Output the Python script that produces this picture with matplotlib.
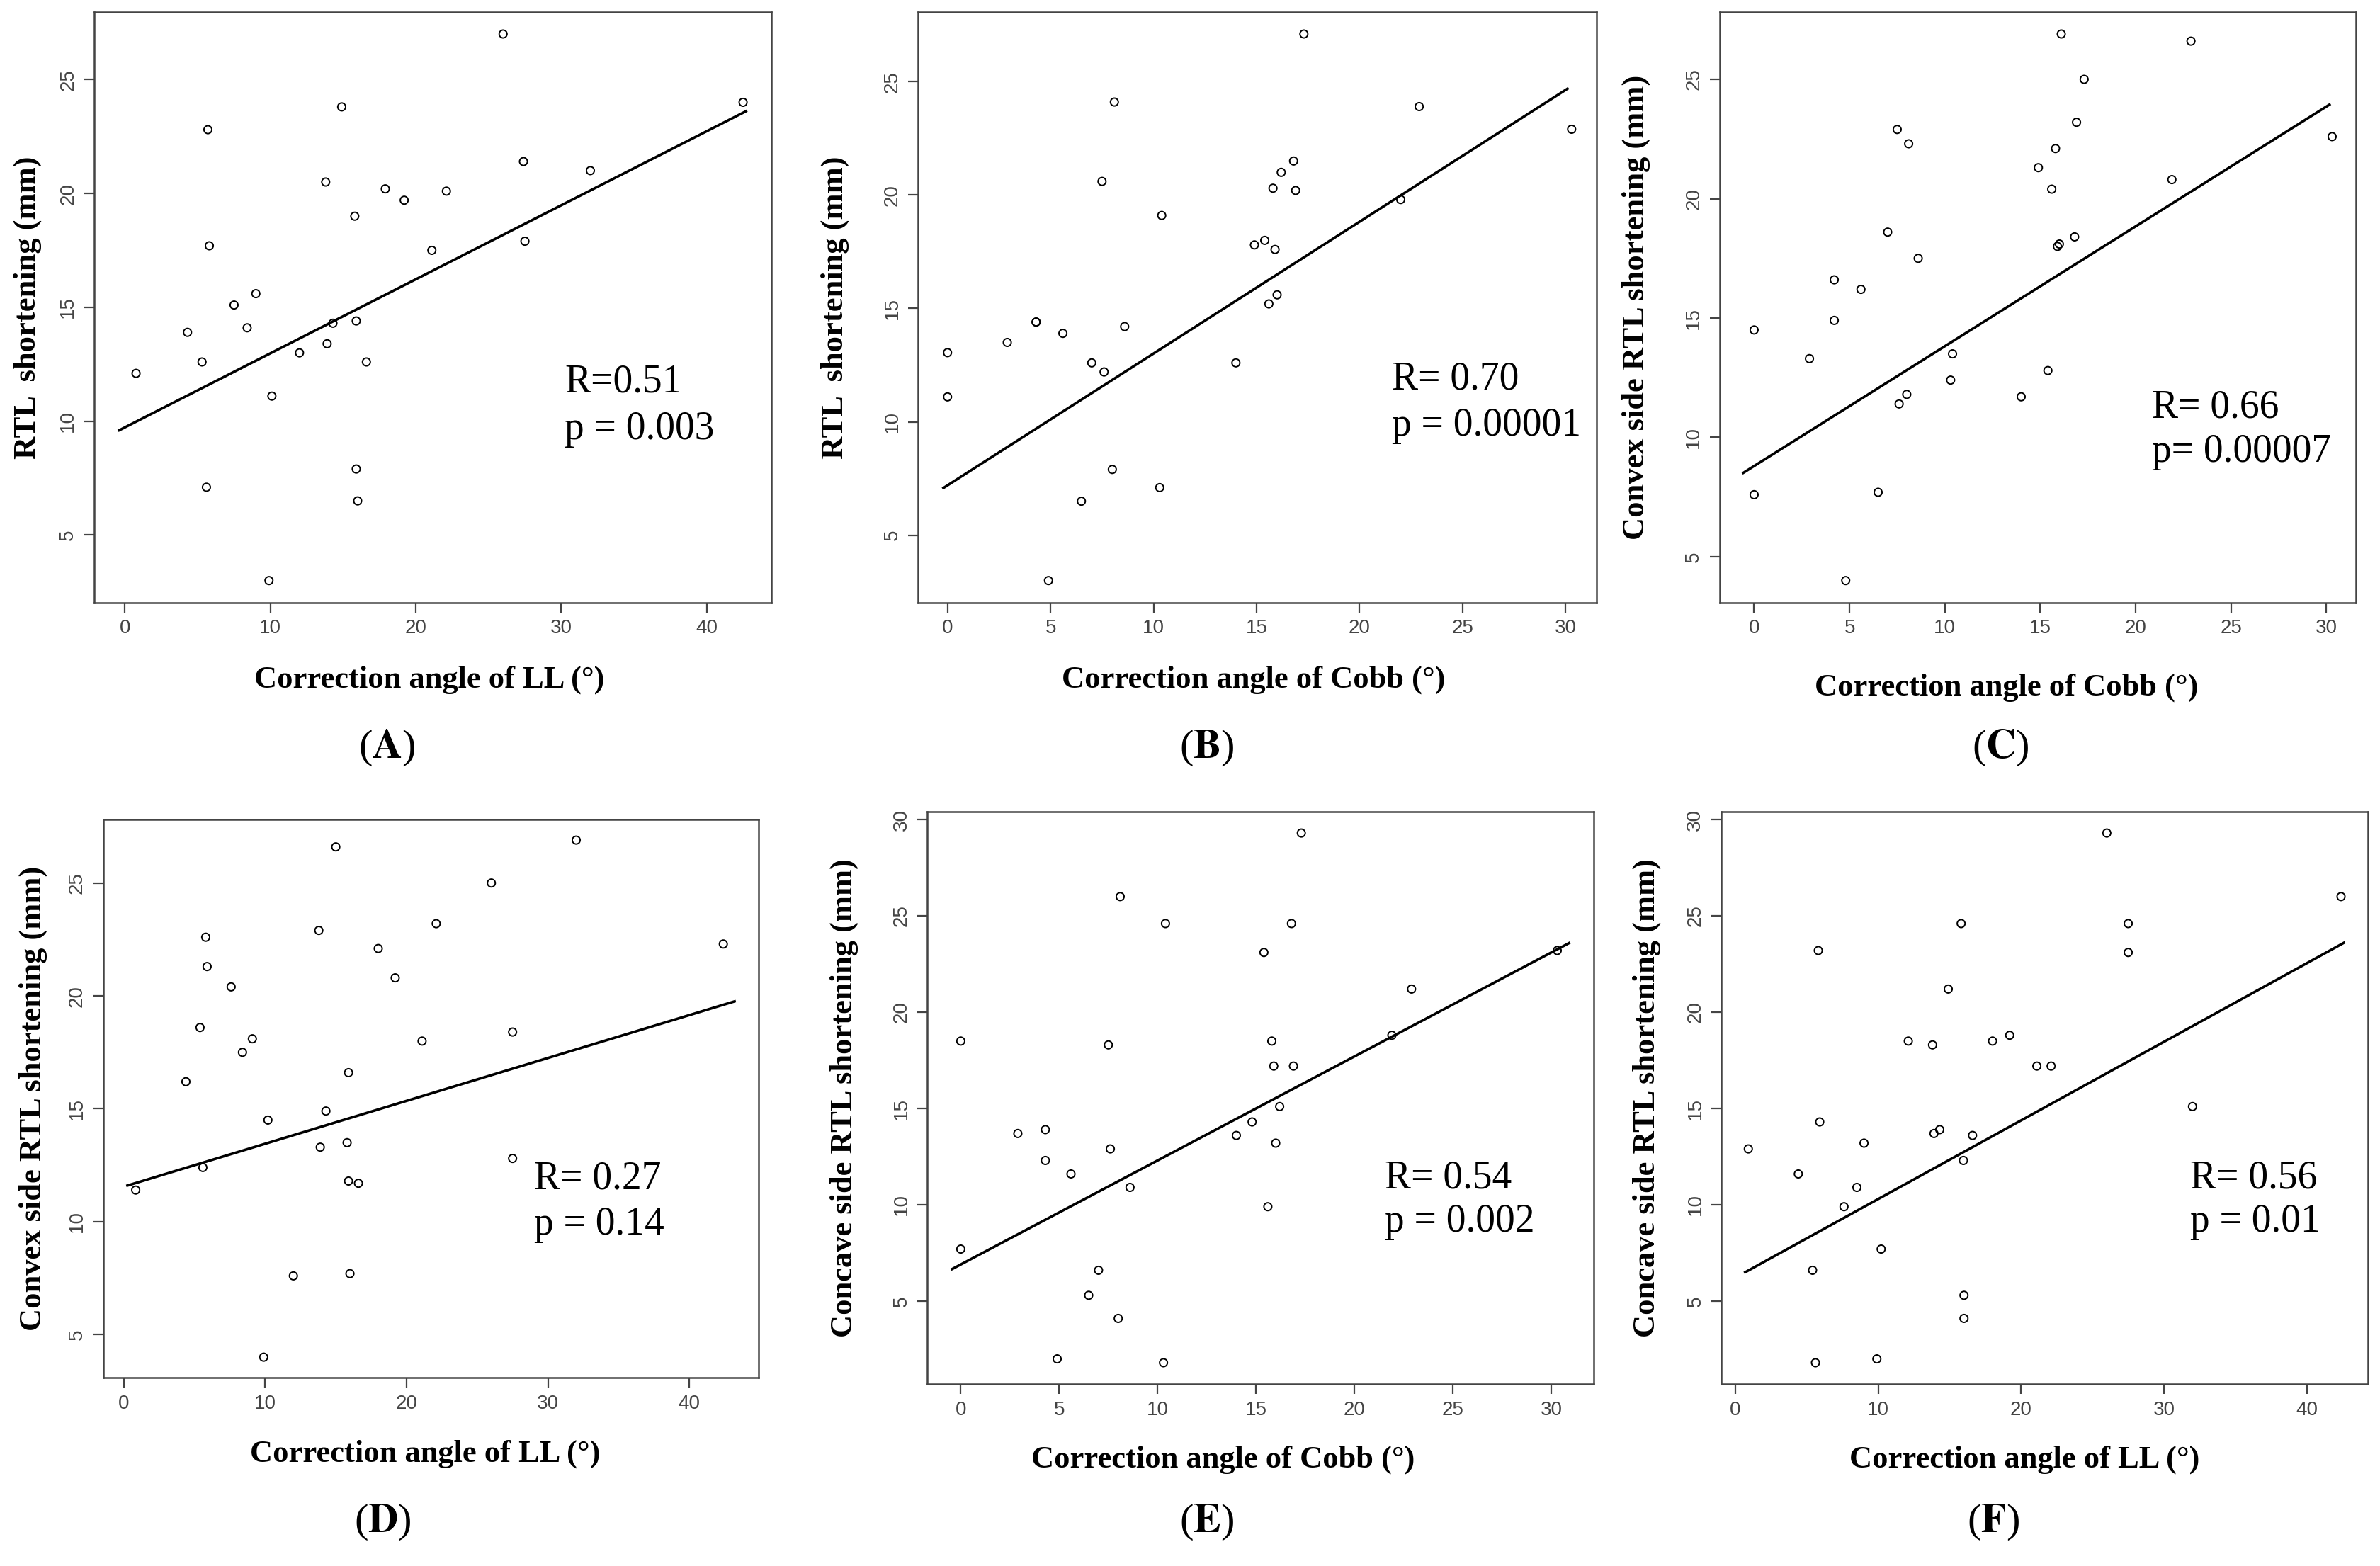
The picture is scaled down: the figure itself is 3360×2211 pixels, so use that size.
import matplotlib
matplotlib.use("Agg")
import matplotlib.pyplot as plt
import numpy as np

# ---------------- data ----------------
a_x = [0.76,4.3,5.3,5.6,5.7,5.8,7.5,8.4,9.0,10.1,9.9,12.0,13.9,13.8,14.3,14.9,15.8,15.9,15.9,16.0,16.6,17.9,19.2,21.1,22.1,26.0,27.4,27.5,32.0,42.5]
a_y = [12.1,13.9,12.6,7.1,22.8,17.7,15.1,14.1,15.6,11.1,3.0,13.0,13.4,20.5,14.3,23.8,19.0,14.4,7.9,6.5,12.6,20.2,19.7,17.5,20.1,27.0,21.4,17.9,21.0,24.0]
b_x = [0.0,0.0,2.9,4.3,4.3,5.6,4.9,6.5,7.0,7.5,7.6,8.0,8.1,8.6,10.4,10.3,14.0,14.9,15.4,15.9,15.6,16.0,15.8,16.2,16.8,16.9,17.3,22.0,22.9,30.3]
b_y = [13.05,11.1,13.5,14.4,14.4,13.9,3.0,6.5,12.6,20.6,12.2,7.9,24.1,14.2,19.1,7.1,12.6,17.8,18.0,17.6,15.2,15.6,20.3,21.0,21.5,20.2,27.1,19.8,23.9,22.9]
c_x = [0,0,2.9,4.2,4.2,4.8,5.6,6.5,7.0,7.5,7.6,8.0,8.1,8.6,10.3,10.4,14.0,14.9,15.4,15.6,15.8,15.9,16.0,16.1,16.8,16.9,17.3,21.9,22.9,30.3]
c_y = [14.5,7.6,13.3,16.6,14.9,4.0,16.2,7.7,18.6,22.9,11.4,11.8,22.3,17.5,12.4,13.5,11.7,21.3,12.8,20.4,22.1,18.0,18.1,26.9,18.4,23.2,25.0,20.8,26.6,22.6]
d_x = [0.85,4.4,5.4,5.6,5.8,5.9,7.6,8.4,9.1,10.2,9.9,12.0,13.8,13.9,14.3,15.0,15.8,15.9,15.9,16.0,16.6,18.0,19.2,21.1,22.1,26.0,27.5,27.5,32.0,42.4]
d_y = [11.4,16.2,18.6,12.4,22.6,21.3,20.4,17.5,18.1,14.5,4.0,7.6,22.9,13.3,14.9,26.6,13.5,16.6,11.8,7.7,11.7,22.1,20.8,18.0,23.2,25.0,18.4,12.8,26.9,22.3]
e_x = [0.0,0.0,2.9,4.3,4.3,4.9,5.6,6.5,7.0,7.5,7.6,8.0,8.1,8.6,10.4,10.3,14.0,14.8,15.4,15.6,15.8,15.9,16.0,16.2,16.8,16.9,17.3,21.9,22.9,30.3]
e_y = [18.5,7.7,13.7,13.9,12.3,2.0,11.6,5.3,6.6,18.3,12.9,4.1,26.0,10.9,24.6,1.8,13.6,14.3,23.1,9.9,18.5,17.2,13.2,15.1,24.6,17.2,29.3,18.8,21.2,23.2]
f_x = [0.9,4.4,5.4,5.6,5.8,5.9,7.6,8.5,9.0,9.9,10.2,12.1,13.8,13.9,14.3,14.9,15.8,15.96,16.0,16.0,16.6,18.0,19.2,21.1,22.1,26.0,27.5,27.5,32.0,42.4]
f_y = [12.9,11.6,6.6,1.8,23.2,14.3,9.9,10.9,13.2,2.0,7.7,18.5,18.3,13.7,13.9,21.2,24.6,12.3,5.3,4.1,13.6,18.5,18.8,17.2,17.2,29.3,24.6,23.1,15.1,26.0]

# fitted lines: intercept, slope, x-range
fit_int = [9.73, 7.2, 8.8, 11.55, 6.9, 6.22]
fit_slope = [0.325, 0.581, 0.502, 0.19, 0.540, 0.408]
fit_range = [(-0.4, 42.7), (-0.2, 30.1), (-0.57, 30.16), (0.27, 43.2), (-0.44, 30.9), (0.68, 42.6)]

stats_r = ["R=0.51", "R= 0.70", "R= 0.66", "R= 0.27", "R= 0.54", "R= 0.56"]
stats_p = ["p = 0.003", "p = 0.00001", "p= 0.00007", "p = 0.14", "p = 0.002", "p = 0.01"]
xlabels = ["Correction angle of LL (°)", "Correction angle of Cobb (°)", "Correction angle of Cobb (°)",
           "Correction angle of LL (°)", "Correction angle of Cobb (°)", "Correction angle of LL (°)"]
ylabels = ["RTL  shortening (mm)", "RTL  shortening (mm)", "Convex side RTL shortening (mm)",
           "Convex side RTL shortening (mm)", "Concave side RTL shortening (mm)", "Concave side RTL shortening (mm)"]
letters = ["A", "B", "C", "D", "E", "F"]
xticks_ll = [0, 10, 20, 30, 40]
xticks_cobb = [0, 5, 10, 15, 20, 25, 30]

xs = [a_x, b_x, c_x, d_x, e_x, f_x]
ys = [a_y, b_y, c_y, d_y, e_y, f_y]
xticks = [xticks_ll, xticks_cobb, xticks_cobb, xticks_ll, xticks_cobb, xticks_ll]

# ---------------- layout (display pixels of 1568x1032 reference) ----------------
W, H = 1568.0, 1032.0
boxes = [(62, 508, 8, 397), (605, 1052, 8, 397), (1133, 1552, 8, 397),
         (68, 500, 540, 908), (611, 1050, 535, 912), (1134, 1560, 535, 912)]
stat_pos = [(0.695, 0.373, 0.293), (0.698, 0.378, 0.30), (0.68, 0.33, 0.255),
            (0.657, 0.356, 0.274), (0.686, 0.36, 0.284), (0.725, 0.36, 0.284)]
xlab_pos = [(283, 448), (826, 448), (1322, 453), (280, 958), (806, 962), (1334, 962)]
letter_pos = [(255, 493), (795, 493), (1318, 493), (252, 1003), (795, 1003), (1313, 1003)]
ylab_x = [18, 550, 1078, 22, 556, 1085]

SERIF = ["Liberation Serif", "DejaVu Serif"]
SANS = ["Liberation Sans", "DejaVu Sans"]

fig = plt.figure(figsize=(16.8, 11.055), dpi=200)
for i in range(6):
    l, r, t, b = boxes[i]
    ax = fig.add_axes([l / W, 1 - b / H, (r - l) / W, (b - t) / H])
    ax.scatter(xs[i], ys[i], s=16, facecolors="none", edgecolors="black", linewidths=0.7)
    x0, x1 = fit_range[i]
    lx = np.array([x0, x1])
    ax.plot(lx, fit_int[i] + fit_slope[i] * lx, color="black", lw=1.3)
    ax.margins(0.04)
    ax.set_xticks(xticks[i])
    yt = [5, 10, 15, 20, 25] if i < 4 else [5, 10, 15, 20, 25, 30]
    ax.set_yticks(yt)
    for lab in ax.get_yticklabels():
        lab.set_rotation(90)
        lab.set_va("center")
    ax.tick_params(labelsize=10, colors="#444444", length=5, width=0.8)
    for lab in ax.get_xticklabels() + ax.get_yticklabels():
        lab.set_family(SANS)
    for s in ax.spines.values():
        s.set_color("#444444")
        s.set_linewidth(0.9)
    sx, sr, sp = stat_pos[i]
    ax.text(sx, sr, stats_r[i], transform=ax.transAxes, fontsize=20, family=SERIF, va="center")
    ax.text(sx, sp, stats_p[i], transform=ax.transAxes, fontsize=20, family=SERIF, va="center")
    # labels
    xx, xy = xlab_pos[i]
    fig.text(xx / W, 1 - xy / H, xlabels[i], ha="center", va="center", fontsize=16,
             fontweight="bold", family=SERIF)
    fig.text(ylab_x[i] / W, 1 - ((t + b) / 2) / H, ylabels[i], ha="center", va="center",
             rotation=90, fontsize=16, fontweight="bold", family=SERIF)
    px, py = letter_pos[i]
    fig.text(px / W, 1 - py / H, "(" + r"$\mathbf{" + letters[i] + "}$" + ")", ha="center",
             va="center", fontsize=21, family=SERIF, math_fontfamily="stix")

fig.savefig("out.png", dpi=200)
